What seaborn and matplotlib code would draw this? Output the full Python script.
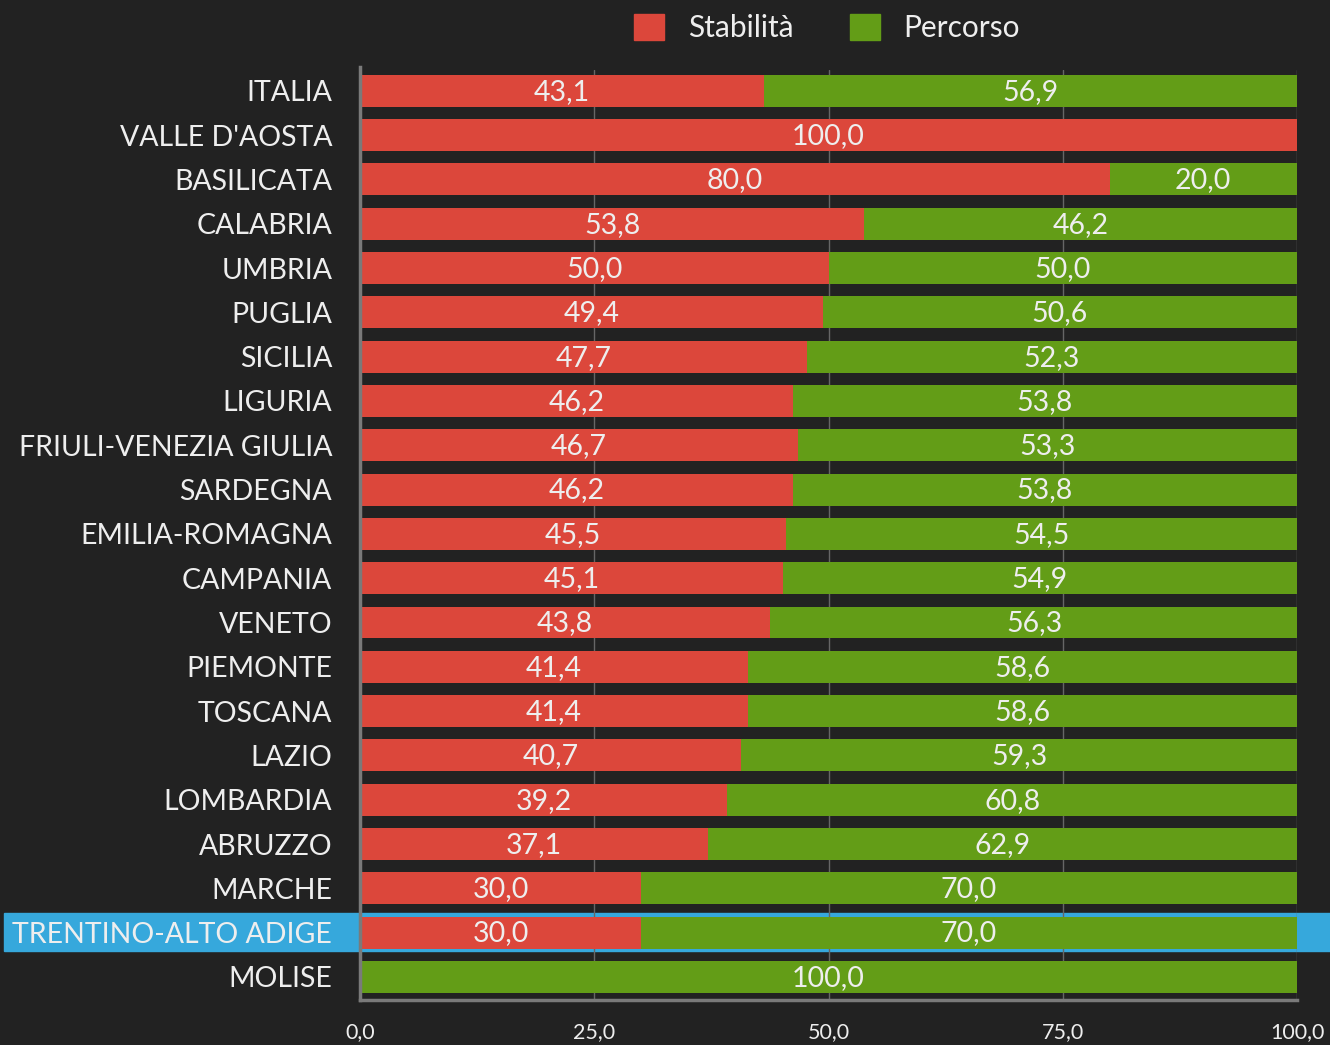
import matplotlib
matplotlib.use("Agg")
import matplotlib.pyplot as plt
import matplotlib.transforms as mtransforms
from matplotlib.patches import Rectangle
import seaborn as sns
import numpy as np
import pandas as pd

regioni = [
    "ITALIA", "VALLE D'AOSTA", "BASILICATA", "CALABRIA", "UMBRIA", "PUGLIA",
    "SICILIA", "LIGURIA", "FRIULI-VENEZIA GIULIA", "SARDEGNA", "EMILIA-ROMAGNA",
    "CAMPANIA", "VENETO", "PIEMONTE", "TOSCANA", "LAZIO", "LOMBARDIA",
    "ABRUZZO", "MARCHE", "TRENTINO-ALTO ADIGE", "MOLISE",
]
stabilita = [43.1, 100.0, 80.0, 53.8, 50.0, 49.4, 47.7, 46.2, 46.7, 46.2, 45.5,
             45.1, 43.8, 41.4, 41.4, 40.7, 39.2, 37.1, 30.0, 30.0, 0.0]
percorso = [56.9, 0.0, 20.0, 46.2, 50.0, 50.6, 52.3, 53.8, 53.3, 53.8, 54.5,
            54.9, 56.3, 58.6, 58.6, 59.3, 60.8, 62.9, 70.0, 70.0, 100.0]
evidenziata = "TRENTINO-ALTO ADIGE"
xticks = [0, 25, 50, 75, 100]

ROSSO = "#DC473B"
VERDE = "#639D17"
SFONDO = "#222222"
TESTO = "#EEEEEE"
BLU = "#36A8DC"

sns.set_theme(style="dark")
plt.rcParams["font.family"] = ["Lato", "DejaVu Sans"]

df = pd.DataFrame({"regione": regioni, "stab": stabilita, "perc": percorso})
df["totale"] = df["stab"] + df["perc"]

fig = plt.figure(figsize=(13.3, 10.45), dpi=100, facecolor=SFONDO)
ax = fig.add_axes([360 / 1330, 45 / 1045, 937 / 1330, 930 / 1045])
ax.set_facecolor("none")
ax.set_zorder(1)

# barre impilate: prima il totale in verde, poi la parte rossa sopra
sns.barplot(data=df, x="totale", y="regione", orient="h", color=VERDE,
            width=0.72, saturation=1, linewidth=0, ax=ax, zorder=2)
sns.barplot(data=df, x="stab", y="regione", orient="h", color=ROSSO,
            width=0.72, saturation=1, linewidth=0, ax=ax, zorder=3)

ax.set_xlim(0, 100)
ax.set_ylim(len(regioni) - 1 + 0.52, -0.47)
ax.set_xlabel("")
ax.set_ylabel("")

# etichette dei valori al centro di ogni segmento
for i, (s, p) in enumerate(zip(stabilita, percorso)):
    if s > 0:
        ax.text(s / 2, i + 0.02, f"{s:.1f}".replace(".", ","), ha="center", va="center",
                color=TESTO, fontsize=20.5, zorder=5)
    if p > 0:
        ax.text(s + p / 2, i + 0.02, f"{p:.1f}".replace(".", ","), ha="center", va="center",
                color=TESTO, fontsize=20.5, zorder=5)

# griglia verticale
ax.set_xticks(xticks)
ax.set_xticklabels([f"{v:.1f}".replace(".", ",") for v in xticks])
for v in xticks[1:]:
    ax.axvline(v, color="#666666", linewidth=1, zorder=1)
ax.grid(False)

ax.tick_params(axis="x", colors=TESTO, labelsize=15.5, length=0, pad=16)
ax.tick_params(axis="y", colors=TESTO, labelsize=20.5, length=0, pad=20)
for lab in ax.get_xticklabels():
    lab.set_color(TESTO)
for lab in ax.get_yticklabels():
    lab.set_color(TESTO)

for side in ["top", "right"]:
    ax.spines[side].set_visible(False)
for side in ["left", "bottom"]:
    ax.spines[side].set_color("#7A7A7A")
    ax.spines[side].set_linewidth(2.5)
    ax.spines[side].set_zorder(6)
ax.spines["left"].set_bounds(len(regioni) - 1 + 0.52, -0.53)

# riga evidenziata (sotto gli assi, che hanno sfondo trasparente)
idx = regioni.index(evidenziata)
trans = mtransforms.blended_transform_factory(fig.transFigure, ax.transData)
fig.add_artist(Rectangle((4 / 1330, idx - 0.45), 1 - 4 / 1330, 0.86,
                         transform=trans, color=BLU, zorder=0))

# legenda in alto
handles = [Rectangle((0, 0), 1, 1, color=ROSSO), Rectangle((0, 0), 1, 1, color=VERDE)]
fig.legend(handles, ["Stabilità", "Percorso"], loc="center", bbox_to_anchor=(827 / 1330, 1 - 28 / 1045),
           ncol=2, frameon=False, fontsize=21.5, labelcolor=TESTO, handlelength=1.0,
           handleheight=1.0, handletextpad=0.8, columnspacing=1.9)

fig.savefig("out.png", dpi=100, facecolor=SFONDO)
